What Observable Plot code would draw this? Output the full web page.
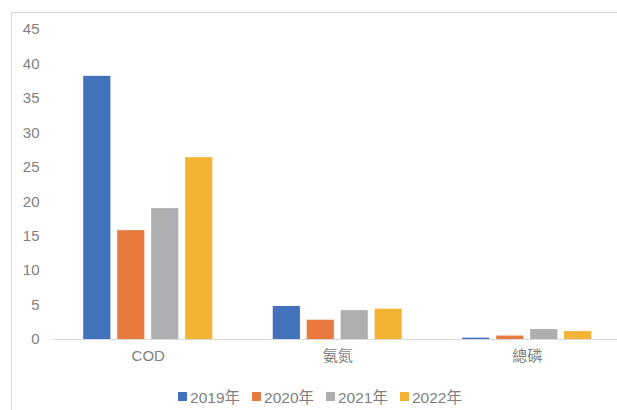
<!DOCTYPE html>
<html>
<head>
<meta charset="utf-8">
<script src="https://cdn.jsdelivr.net/npm/d3@7"></script>
<script src="https://cdn.jsdelivr.net/npm/@observablehq/plot@0.6"></script>
<style>
  html, body { margin: 0; padding: 0; background: #fff; }
  #wrap { position: relative; width: 617px; height: 410px; overflow: hidden; background: #fff; }
  #frame { position: absolute; left: 11px; top: 12px; width: 700px; height: 500px;
           border-left: 1px solid #d9d9d9; border-top: 1px solid #d9d9d9; box-sizing: border-box; }
  #chart { position: absolute; left: 0; top: 0; width: 640px; }
  #chart svg { max-width: none !important; }
  #legend { position: absolute; left: 0; top: 385px; width: 640px; display: flex; justify-content: center;
            font-family: "Liberation Sans", Arial, "Noto Sans CJK TC", sans-serif; font-size: 15.5px; color: #7f7f7f; }
  .item { display: flex; align-items: center; margin: 0 6px; }
  .sw { width: 9px; height: 9px; margin-right: 3px; }
</style>
</head>
<body>
<div id="wrap">
  <div id="frame"></div>
  <div id="chart"></div>
  <div id="legend"></div>
</div>
<script>
const categories = ["COD", "氨氮", "總磷"];
const years = ["2019年", "2020年", "2021年", "2022年"];
const v2019 = [38.2, 4.8, 0.2];
const v2020 = [15.8, 2.8, 0.5];
const v2021 = [19.0, 4.2, 1.45];
const v2022 = [26.4, 4.4, 1.15];
const colors = ["#4172BA", "#E87A40", "#AFAFB2", "#F5B335"];
const yTicks = [0, 5, 10, 15, 20, 25, 30, 35, 40, 45];

const series = [v2019, v2020, v2021, v2022];
const data = [];
categories.forEach((c, i) => years.forEach((y, j) => data.push({category: c, year: y, value: series[j][i]})));

const chart = Plot.plot({
  width: 640,
  height: 375,
  marginLeft: 53,
  marginRight: 18.5,
  marginTop: 29,
  marginBottom: 36,
  style: {color: "#7f7f7f", fontFamily: "'Liberation Sans', Arial, 'Noto Sans CJK TC', sans-serif", background: "transparent", maxWidth: "none"},
  fx: {domain: categories, padding: 0, round: false},
  x: {domain: years, paddingInner: 0.2, paddingOuter: 0.89, round: false, axis: null},
  y: {domain: [0, 45]},
  color: {domain: years, range: colors},
  marks: [
    Plot.barY(data, {fx: "category", x: "year", y: "value", fill: "year"}),
    Plot.ruleY([0], {stroke: "#d9d9d9", strokeWidth: 1}),
    Plot.axisY({ticks: yTicks, tickSize: 0, tickPadding: 14, fontSize: 15, label: null}),
    Plot.axisFx({anchor: "bottom", tickSize: 0, tickPadding: 11, fontSize: 15, label: null})
  ]
});
document.getElementById("chart").appendChild(chart);

const legend = document.getElementById("legend");
years.forEach((y, i) => {
  const it = document.createElement("div");
  it.className = "item";
  const sw = document.createElement("span");
  sw.className = "sw";
  sw.style.background = colors[i];
  const t = document.createElement("span");
  t.textContent = y;
  it.appendChild(sw); it.appendChild(t);
  legend.appendChild(it);
});
</script>
</body>
</html>
